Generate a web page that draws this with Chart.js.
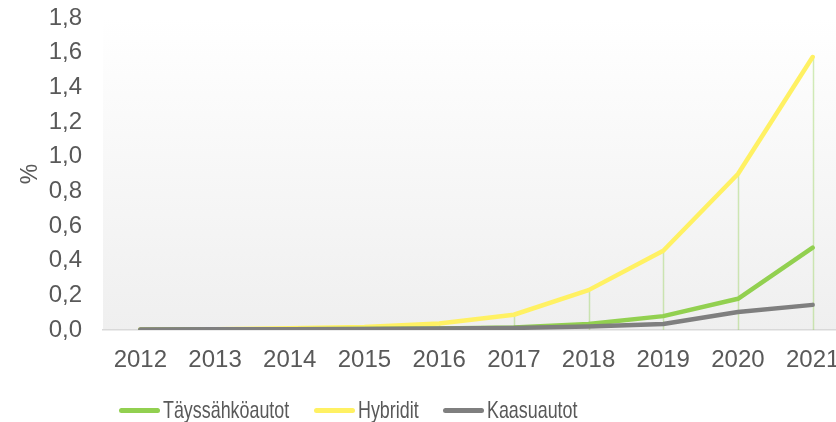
<!DOCTYPE html>
<html>
<head>
<meta charset="utf-8">
<script src="https://cdn.jsdelivr.net/npm/chart.js@4/dist/chart.umd.min.js"></script>
<style>
    html, body { margin: 0; padding: 0; background: #fff; overflow: hidden; }
    #wrap { position: relative; width: 836px; height: 422px; overflow: hidden; }
    #chart { position: absolute; left: 0; top: 0; }
    #legend {
        position: absolute; left: 0; top: 0; width: 836px; height: 422px;
        font-family: "Liberation Sans", Arial, sans-serif; font-size: 24px; color: #595959;
    }
    .swatch { position: absolute; top: 408px; width: 41px; height: 4.5px; border-radius: 2.5px; }
    .label {
        position: absolute; top: 396px; line-height: 28px; white-space: nowrap;
        transform: scaleX(0.745); transform-origin: left center;
    }
</style>
</head>
<body>
<div id="wrap">
    <canvas id="chart" width="880" height="422"></canvas>
    <div id="legend"></div>
</div>
<script>
// Käyttövoimien osuudet vuosittain
const years = ['2012', '2013', '2014', '2015', '2016', '2017', '2018', '2019', '2020', '2021'];
const taysSahkoautot = [0.002, 0.004, 0.005, 0.006, 0.008, 0.015, 0.035, 0.08, 0.18, 0.475];
const hybridit = [0.003, 0.005, 0.01, 0.017, 0.038, 0.088, 0.23, 0.457, 0.90, 1.575];
const kaasuautot = [0.003, 0.004, 0.005, 0.006, 0.008, 0.012, 0.02, 0.035, 0.104, 0.145];
const yTicks = [0, 0.2, 0.4, 0.6, 0.8, 1.0, 1.2, 1.4, 1.6, 1.8];

const series = [
    { label: 'Täyssähköautot', data: taysSahkoautot, color: '#92d050', order: 1, legendX: 119 },
    { label: 'Hybridit', data: hybridit, color: '#fff163', order: 2, legendX: 314 },
    { label: 'Kaasuautot', data: kaasuautot, color: '#7f7f7f', order: 0, legendX: 443 }
];

const fontFamily = '"Liberation Sans", Arial, sans-serif';
const textColor = '#595959';

// taustan liukuväri piirtoalueelle
const plotBackground = {
    id: 'plotBackground',
    beforeDraw(chart) {
        const { ctx, chartArea: a } = chart;
        const g = ctx.createLinearGradient(0, a.top, 0, a.bottom);
        g.addColorStop(0, '#ffffff');
        g.addColorStop(1, '#efefef');
        ctx.save();
        ctx.fillStyle = g;
        ctx.fillRect(a.left, a.top, a.right - a.left, a.bottom - a.top);
        ctx.restore();
    }
};

// pystyviivat suurimmasta arvosta nollaan
const dropLines = {
    id: 'dropLines',
    beforeDatasetsDraw(chart) {
        const { ctx, scales: { x, y } } = chart;
        ctx.save();
        ctx.strokeStyle = 'rgba(146, 208, 80, 0.4)';
        ctx.lineWidth = 1.5;
        years.forEach((yr, i) => {
            const top = Math.max(taysSahkoautot[i], hybridit[i], kaasuautot[i]);
            const px = Math.round(x.getPixelForValue(i)) + 0.5;
            ctx.beginPath();
            ctx.moveTo(px, y.getPixelForValue(top));
            ctx.lineTo(px, y.getPixelForValue(0));
            ctx.stroke();
        });
        ctx.restore();
    }
};

new Chart(document.getElementById('chart'), {
    type: 'line',
    data: {
        labels: years,
        datasets: series.map(s => ({
            label: s.label,
            data: s.data,
            borderColor: s.color,
            backgroundColor: s.color,
            borderWidth: 4.5,
            borderCapStyle: 'round',
            borderJoinStyle: 'round',
            pointRadius: 0,
            tension: 0,
            order: s.order
        }))
    },
    options: {
        responsive: false,
        animation: false,
        layout: { padding: { top: 18, right: 30, left: 0, bottom: 0 } },
        plugins: {
            legend: { display: false },
            tooltip: { enabled: false }
        },
        scales: {
            x: {
                offset: true,
                grid: { display: false, drawTicks: false },
                border: { display: true, color: '#d9d9d9', width: 1.5 },
                ticks: {
                    color: textColor,
                    font: { family: fontFamily, size: 24 },
                    padding: 16,
                    maxRotation: 0,
                    autoSkip: false
                },
                afterFit(scale) { scale.height = 92; }
            },
            y: {
                min: 0,
                max: 1.8,
                afterBuildTicks(scale) { scale.ticks = yTicks.map(v => ({ value: v })); },
                // näkymätön tikki pitää tekstit irti akselista
                grid: { display: true, drawOnChartArea: false, drawTicks: true, tickLength: 21, tickColor: 'rgba(0,0,0,0)' },
                border: { display: false },
                ticks: {
                    color: textColor,
                    font: { family: fontFamily, size: 24 },
                    padding: 0,
                    callback: v => v.toFixed(1).replace('.', ',')
                },
                title: {
                    display: true,
                    text: '%',
                    color: textColor,
                    font: { family: fontFamily, size: 23 },
                    padding: { top: 17, bottom: 0 }
                },
                afterFit(scale) { scale.width = 103; }
            }
        }
    },
    plugins: [plotBackground, dropLines]
});

// selite
const legend = document.getElementById('legend');
series.forEach(s => {
    const sw = document.createElement('span');
    sw.className = 'swatch';
    sw.style.left = s.legendX + 'px';
    sw.style.background = s.color;
    const txt = document.createElement('span');
    txt.className = 'label';
    txt.style.left = (s.legendX + 44) + 'px';
    txt.textContent = s.label;
    legend.appendChild(sw);
    legend.appendChild(txt);
});
</script>
</body>
</html>
